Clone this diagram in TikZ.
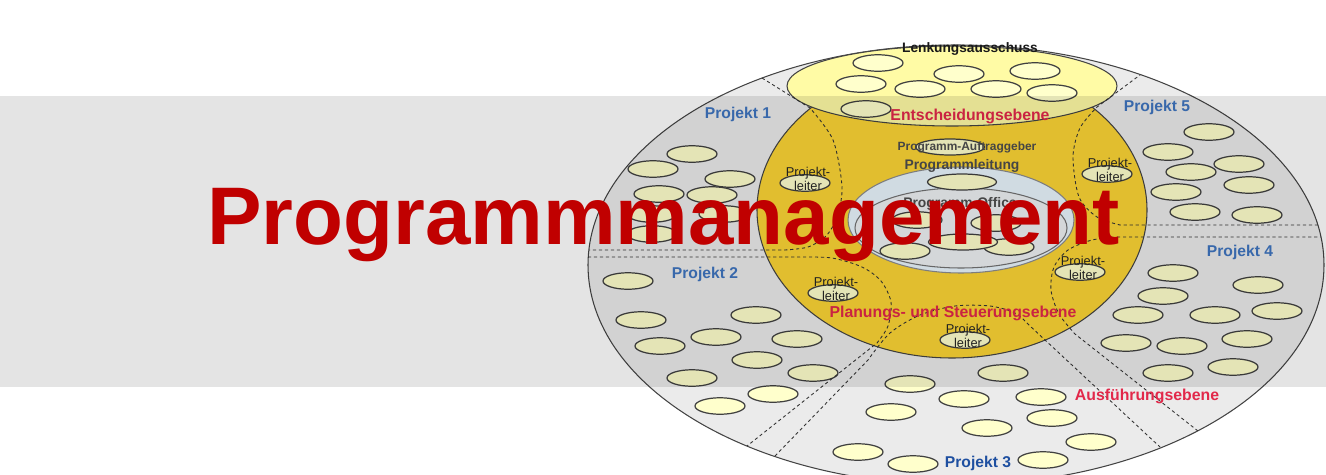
\documentclass[tikz,border=0pt]{standalone}
\usepackage{fontspec}
\setmainfont{Liberation Sans}
\usepackage{xcolor}
\usepackage{tikz}
\usetikzlibrary{shapes.geometric, positioning, calc}

\definecolor{ringgray}{HTML}{EBEBEB}
\definecolor{lenkgelb}{HTML}{FFFBA5}
\definecolor{seatcream}{HTML}{FFFFCC}
\definecolor{plangold}{HTML}{FCD535}
\definecolor{leitblau}{HTML}{E9F5FD}
\definecolor{officegrau}{HTML}{EEF1F3}
\definecolor{ebenerot}{HTML}{E2284A}
\definecolor{projblau}{HTML}{3F75C0}
\definecolor{projdunkel}{HTML}{1E4FA0}
\definecolor{titelrot}{HTML}{C00000}
\definecolor{randgrau}{HTML}{444444}
\definecolor{textgrau}{HTML}{4E4E4E}

\begin{document}
\begin{tikzpicture}[
    x=0.02cm, y=-0.02cm,
    % --- region outlines ---
    regionline/.style={draw=randgrau, line width=0.6pt},
    splitline/.style={draw=black!80, line width=0.5pt, dash pattern=on 1.8pt off 1.6pt},
    % --- small ellipses ---
    seatnode/.style={ellipse, draw=black!75, line width=0.7pt, fill=seatcream,
        minimum width=1cm, minimum height=0.33cm, inner sep=0pt},
    wideseat/.style={seatnode, minimum width=1.38cm, minimum height=0.32cm},
    % --- labels ---
    projlbl/.style={font=\fontsize{8.9pt}{10pt}\selectfont\bfseries, text=projblau, inner sep=0pt},
    ebenelbl/.style={font=\fontsize{9pt}{10pt}\selectfont\bfseries, text=ebenerot, inner sep=0pt},
    rolelbl/.style={font=\fontsize{7.9pt}{9pt}\selectfont\bfseries, text=textgrau, inner sep=0pt},
    leiterlbl/.style={font=\fontsize{7.3pt}{6.3pt}\selectfont, text=black!85,
        align=center, inner sep=0pt},
]
\useasboundingbox (0,0) rectangle (1326,474);
\clip (0,0) rectangle (1326,474);

% ---- Ausfuehrungsebene (outer ring) ----
\draw[regionline, fill=ringgray] (956,265) ellipse [x radius=368, y radius=220];

% ---- Project seats ----
\foreach \px/\py [count=\i] in {692/154, 653/169, 730/179, 659/194, 712/195,
        652/214, 724/214, 652/234}
    \node[seatnode] (pa-\i) at (\px,\py) {};
\foreach \px/\py [count=\i] in {628/281, 641/320, 756/315, 660/346, 716/337,
        797/339, 757/360, 692/378, 813/373, 773/394, 720/406}
    \node[seatnode] (pb-\i) at (\px,\py) {};
\foreach \px/\py [count=\i] in {1003/373, 910/384, 964/399, 1041/397, 891/412,
        1052/418, 987/428, 1091/442, 858/452, 913/464, 1043/460}
    \node[seatnode] (pc-\i) at (\px,\py) {};
\foreach \px/\py [count=\i] in {1173/273, 1258/285, 1163/296, 1138/315, 1215/315,
        1277/311, 1126/343, 1182/346, 1247/339, 1168/373, 1233/367}
    \node[seatnode] (pd-\i) at (\px,\py) {};
\foreach \px/\py [count=\i] in {1209/132, 1168/152, 1239/164, 1191/172, 1249/185,
        1176/192, 1195/212, 1257/215}
    \node[seatnode] (pe-\i) at (\px,\py) {};

% ---- Planungs- und Steuerungsebene ----
\draw[regionline, fill=plangold] (952,210) ellipse [x radius=195, y radius=148];

% ---- Entscheidungsebene ----
\draw[regionline, fill=lenkgelb] (952,86) ellipse [x radius=165, y radius=40];
\foreach \px/\py [count=\i] in {878/63, 959/74, 1035/71, 861/84, 920/89,
        996/89, 1052/93, 866/109}
    \node[seatnode] (lenk-\i) at (\px,\py) {};

% ---- Project borders (dashed) ----
\draw[splitline] (762,78) -- plot[smooth] coordinates {(810,108) (833,140) (842,187)
    (837,217) (826,236) (808,247) (785,250)} -- (589,250);
\draw[splitline] (588,257) -- plot[smooth] coordinates {(800,257) (832,258) (862,267)
    (881,281) (891,302) (888,326) (877,343)} -- (747,446);
\draw[splitline] (775,456) -- plot[smooth] coordinates {(868,360) (890,333) (920,315)
    (955,306) (990,306) (1015,313) (1030,326)} -- (1160,447);
\draw[splitline] (1198,431) -- plot[smooth] coordinates {(1075,334) (1059,314)
    (1051,290) (1054,267) (1068,250) (1092,240) (1117,237)} -- (1321,237);
\draw[splitline] (1318,225) -- plot[smooth] coordinates {(1120,225) (1097,217)
    (1079,197) (1073,157) (1080,128) (1097,107)} -- (1140,75);

% ---- Programmleitung / Programm-Office ----
\draw[regionline, draw=black!45, fill=leitblau] (961,220) ellipse [x radius=113, y radius=53];
\draw[regionline, draw=black!55, fill=officegrau] (961,228) ellipse [x radius=106, y radius=40];
\node[wideseat] (auftrag) at (950,147) {};
\node[wideseat] (leitung) at (962,182) {};
\foreach \px/\py [count=\i] in {917/220, 996/223, 905/251, 1009/247}
    \node[seatnode] (office-\i) at (\px,\py) {};
\node[wideseat] (office-5) at (963,242) {};

% ---- Projektleiter ----
\foreach \nd/\px/\py in {pl1/805/183, pl5/1107/174, pl4/1080/272, pl2/833/293, pl3/965/340}{
    \node[seatnode] (\nd) at (\px,\py) {};
    \node[leiterlbl] (\nd-txt) at ($(\nd)+(3,-4)$) {Projekt-\\leiter};
}

% ---- Labels ----
\node[font=\fontsize{7.8pt}{9pt}\selectfont\bfseries, text=black!90, inner sep=0pt]
    (lenkung) at (970,49) {Lenkungsausschuss};
\node[ebenelbl] (entscheid) at (970,116) {Entscheidungsebene};
\node[rolelbl, font=\fontsize{6.8pt}{8pt}\selectfont\bfseries] (auftraglbl) at (967,147) {Programm-Auftraggeber};
\node[rolelbl] (leitunglbl) at (962,166) {Programmleitung};
\node[rolelbl] (officelbl) at (960,204) {Programm-Office};
\node[ebenelbl] (planung) at (953,313) {Planungs- und Steuerungsebene};
\node[ebenelbl] (ausfuehr) at (1147,396) {Ausführungsebene};

\node[projlbl] (proj1) at (738,114) {Projekt 1};
\node[projlbl] (proj2) at (705,274) {Projekt 2};
\node[projlbl, text=projdunkel] (proj3) at (978,463) {Projekt 3};
\node[projlbl] (proj4) at (1240,252) {Projekt 4};
\node[projlbl] (proj5) at (1157,107) {Projekt 5};

% ---- Title band ----
\fill[black, fill opacity=0.106] (0,96) rectangle (1326,387);
\node[anchor=base west, inner sep=0pt, text=titelrot,
      font=\fontsize{46.5pt}{50pt}\selectfont\bfseries] (titel) at (207,244) {Programmmanagement};

\end{tikzpicture}
\end{document}
